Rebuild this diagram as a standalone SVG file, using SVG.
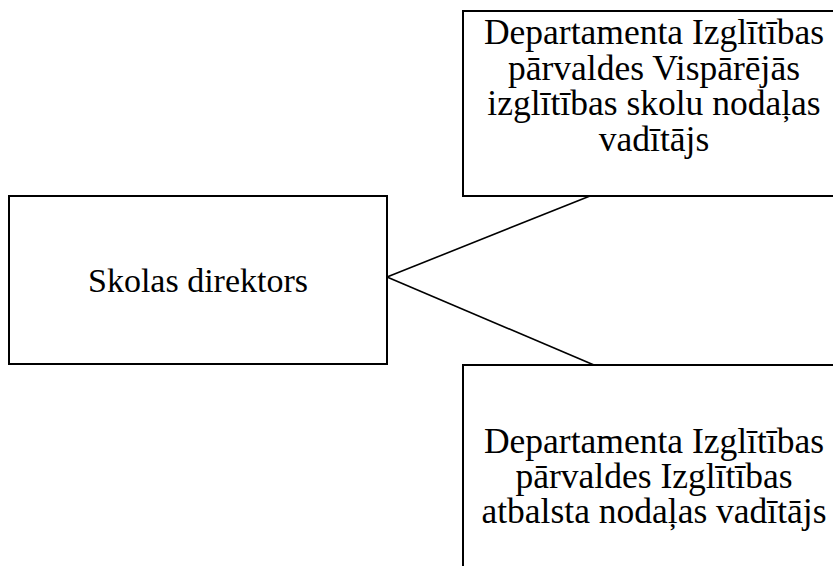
<svg xmlns="http://www.w3.org/2000/svg" width="833" height="566" viewBox="0 0 833 566">
<style>
.box{fill:#fff;stroke:#000;stroke-width:2}
.t{font-family:"Liberation Serif","Times New Roman",serif;font-size:34px;fill:#000;text-anchor:middle}
.r{font-size:35.5px}
.c{stroke:#000;stroke-width:1.6;fill:none}
</style>
<rect width="833" height="566" fill="#fff"/>
<g id="connectors">
<line class="c" x1="387" y1="277" x2="590" y2="196"/>
<line class="c" x1="387" y1="277" x2="594" y2="365"/>
</g>
<g id="director">
<rect class="box" x="9" y="196" width="378" height="168"/>
<text class="t" x="198" y="292">Skolas direktors</text>
</g>
<g id="head-general">
<rect class="box" x="463" y="11" width="390" height="185"/>
<text class="t r" x="654" y="44">Departamenta Izglītības</text>
<text class="t r" x="654" y="79.5">pārvaldes Vispārējās</text>
<text class="t r" x="654" y="115">izglītības skolu nodaļas</text>
<text class="t r" x="654" y="150.5">vadītājs</text>
</g>
<g id="head-support">
<rect class="box" x="463" y="365" width="390" height="220"/>
<text class="t r" x="654" y="453">Departamenta Izglītības</text>
<text class="t r" x="654" y="488">pārvaldes Izglītības</text>
<text class="t r" x="654" y="523">atbalsta nodaļas vadītājs</text>
</g>
</svg>
